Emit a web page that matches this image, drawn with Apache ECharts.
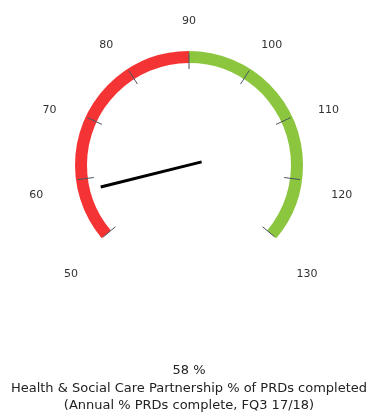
<!DOCTYPE html>
<html>
<head>
<meta charset="utf-8">
<script src="https://cdn.jsdelivr.net/npm/echarts@6/dist/echarts.min.js"></script>
<style>
  html, body { margin: 0; padding: 0; background: #ffffff; }
  #chart { width: 374px; height: 418px; }
</style>
</head>
<body>
<div id="chart"></div>
<script>
// Scale of the dial
const scaleMin = 50;
const scaleMax = 130;
const scaleSteps = 8;
// Colour bands: [fraction of scale where band ends, colour]
const bandEnds = [0.5, 1];
const bandColors = ['#f43434', '#8cc63f'];
// Reading shown by the needle
const valueName = 'Health & Social Care Partnership % of PRDs completed\n(Annual % PRDs complete, FQ3 17/18)';
const value = 58;
const valueUnit = '%';

const chart = echarts.init(document.getElementById('chart'), null, { renderer: 'canvas' });

const textFont = 'DejaVu Sans';

chart.setOption({
  backgroundColor: '#ffffff',
  animation: false,
  series: [{
    type: 'gauge',
    center: [189, 165],
    radius: 114,
    startAngle: 220,
    endAngle: -40,
    min: scaleMin,
    max: scaleMax,
    splitNumber: scaleSteps,
    axisLine: {
      lineStyle: {
        width: 12,
        color: bandEnds.map((e, i) => [e, bandColors[i]])
      }
    },
    axisTick: { show: false },
    splitLine: {
      show: true,
      length: 16,
      distance: -10,
      lineStyle: { color: '#4a5560', width: 1 }
    },
    axisLabel: {
      show: true,
      distance: -46,
      // tiny rotation keeps every label centred on its anchor point
      rotate: 0.0001,
      // blank first line drops each label a little below its anchor
      formatter: v => '\n' + v,
      lineHeight: 20,
      color: '#333333',
      fontFamily: textFont,
      fontSize: 11
    },
    pointer: {
      show: true,
      icon: 'rect',
      width: 3,
      length: 104,
      offsetCenter: [0, 13],
      itemStyle: { color: '#000000' }
    },
    anchor: { show: false },
    title: {
      show: true,
      offsetCenter: [0, 232.5],
      color: '#222222',
      fontFamily: textFont,
      fontSize: 13,
      lineHeight: 17
    },
    detail: {
      show: true,
      offsetCenter: [0, 206],
      formatter: '{value} ' + valueUnit,
      color: '#222222',
      fontFamily: textFont,
      fontSize: 13,
      fontWeight: 'normal',
      valueAnimation: false
    },
    data: [{ value: value, name: valueName }]
  }]
});
</script>
</body>
</html>
